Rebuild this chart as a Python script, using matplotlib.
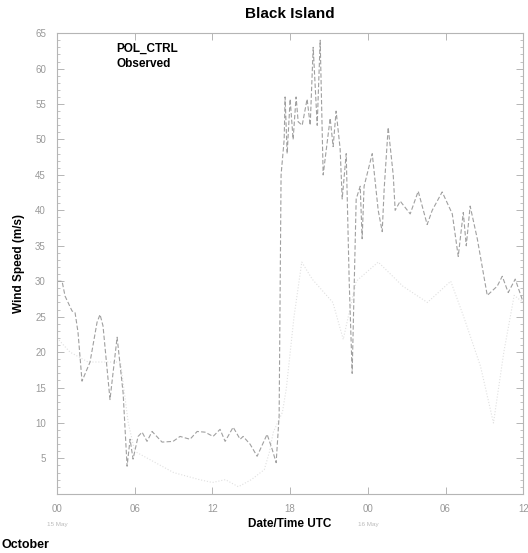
import matplotlib
matplotlib.use("Agg")
import matplotlib.pyplot as plt
from matplotlib.ticker import MultipleLocator

plt.rcParams['font.family'] = ['Liberation Sans', 'DejaVu Sans']

# hours since 00 UTC on the first day
obs_hours = [0.0, 0.39, 0.62, 1.16, 1.39, 1.62, 1.93, 2.55, 3.09, 3.32, 3.55, 4.09,
             4.64, 4.71, 5.10, 5.41, 5.64, 5.87, 6.26, 6.57, 6.95, 7.34, 8.11, 8.96,
             9.50, 10.27, 10.82, 11.43, 12.05, 12.59, 12.98, 13.60, 14.14, 14.37,
             14.91, 15.45, 16.22, 16.61, 16.92, 17.15, 17.30, 17.54, 17.61, 17.77,
             18.0, 18.23, 18.46, 18.62, 18.93, 19.31, 19.55, 19.78, 20.09, 20.32,
             20.55, 21.09, 21.32, 21.55, 21.86, 22.02, 22.33, 22.56, 22.79, 23.1,
             23.41, 23.56, 23.71, 24.34, 24.80, 25.11, 25.26, 25.57, 25.96, 26.11,
             26.5, 27.27, 27.89, 28.58, 28.97, 29.74, 30.52, 30.98, 31.37, 31.6,
             31.9, 32.45, 33.22, 33.99, 34.38, 34.84, 35.38, 36.0]
obs_speed = [30, 30, 27.9, 25.8, 25.6, 22.8, 15.9, 18.6, 24.2, 25.3, 23.7, 13.3,
             22.1, 20.9, 14.3, 3.9, 7.7, 4.9, 8.1, 8.7, 7.4, 8.8, 7.3, 7.4,
             8.1, 7.7, 8.8, 8.7, 8.1, 9.1, 7.4, 9.4, 7.7, 8.1,
             7.0, 5.3, 8.4, 6.3, 4.4, 11, 45, 50, 56, 48,
             55.7, 50, 56, 52.5, 52, 55.7, 52, 63, 52, 64,
             45, 53, 49, 54, 48.7, 41.6, 48, 30, 17, 41.6,
             43.4, 36, 43.4, 48, 40, 37, 43, 51.7, 45, 40,
             41.3, 39.5, 42.7, 38, 40, 42.6, 39.5, 33.5, 39.7, 35,
             40.6, 36, 28, 29.3, 30.7, 28.4, 30.3, 27]

ctrl_hours = [0.0, 1.0, 2.4, 4.9, 5.5, 6.0, 7.0, 8.0, 9.0, 10.0, 11.0, 12.0, 13.0,
              14.0, 15.0, 16.0, 16.4, 16.7, 17.4, 17.7, 18.3, 18.9, 19.7, 21.3,
              22.1, 23.1, 24.8, 26.7, 28.6, 30.4, 31.4, 32.7, 33.7, 34.5, 35.3, 36.0]
ctrl_speed = [22, 20, 18.6, 18.6, 10, 6, 5, 4, 3, 2.5, 2, 1.6, 2,
              1, 2, 3.4, 5.9, 8.7, 11.5, 14.8, 25, 32.7, 30.3, 27,
              21.8, 30, 32.7, 29.3, 27, 30, 25, 18, 10, 20, 28, 27]

tick_pos = [0, 6, 12, 18, 24, 30, 36]
tick_lab = ['00', '06', '12', '18', '00', '06', '12']
day_pos = [0, 24]
day_lab = ['15 May', '16 May']

fig = plt.figure(figsize=(5.28, 5.53), dpi=100)
ax = fig.add_axes([0.108, 0.107, 0.883, 0.833])

ax.plot(ctrl_hours, ctrl_speed, color='#e0e0e0', lw=0.8, ls=':')
ax.plot(obs_hours, obs_speed, color='#a0a0a0', lw=0.8, ls=(0, (4, 2)))

ax.set_xlim(0, 36)
ax.set_ylim(0, 65)
ax.set_xticks(tick_pos)
ax.set_xticklabels(tick_lab)
ax.set_yticks(range(5, 70, 5))
ax.yaxis.set_minor_locator(MultipleLocator(1))
ax.tick_params(which='both', direction='in', colors='#aaaaaa', labelcolor='#999999',
               labelsize=7, top=True, right=True)
ax.tick_params(which='major', length=5, width=0.6)
ax.tick_params(which='minor', length=2.5, width=0.5)
ax.tick_params(axis='x', pad=7)
ax.tick_params(axis='y', pad=8)
for s in ax.spines.values():
    s.set_color('#b5b5b5')
    s.set_linewidth(0.8)

for p, lab in zip(day_pos, day_lab):
    ax.text(p, -4.0, lab, fontsize=4.5, color='#bbbbbb', ha='center', va='top')

ax.text(4.6, 63.6, 'POL_CTRL\nObserved', fontsize=8.5, fontweight='bold',
        va='top', ha='left', linespacing=1.35)

ax.set_title('Black Island', fontsize=11, fontweight='bold', pad=11)
ax.set_ylabel('Wind Speed (m/s)', fontsize=8.5, fontweight='bold', labelpad=7)
ax.set_xlabel('Date/Time UTC', fontsize=8.5, fontweight='bold', labelpad=3)

fig.text(0.002, 0.004, 'October', fontsize=9, fontweight='bold', ha='left', va='bottom')

fig.savefig('out.png', dpi=100)
